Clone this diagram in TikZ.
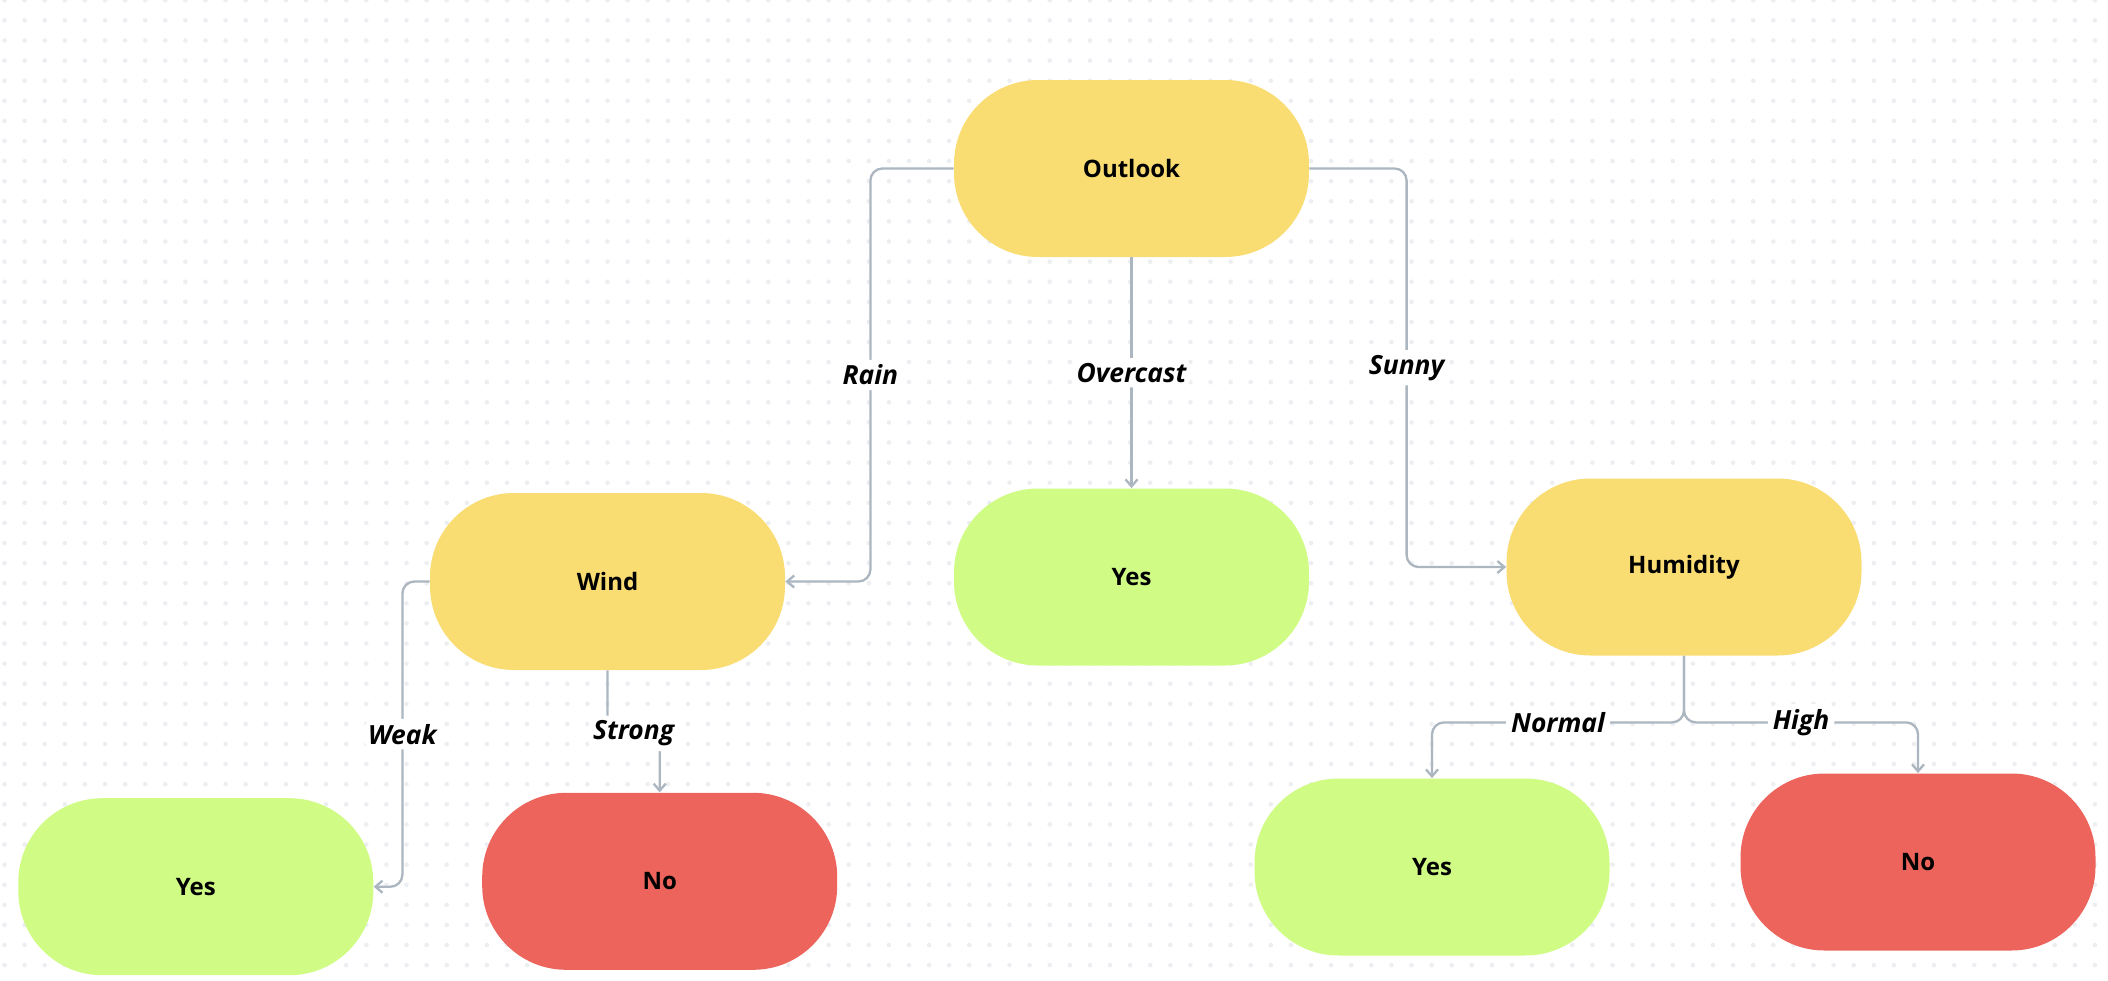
\documentclass[tikz,border=0pt]{standalone}
\usepackage{fontspec}
\setmainfont{Open Sans}
\usetikzlibrary{positioning,arrows.meta}
\definecolor{splitgold}{HTML}{F9DD72}
\definecolor{leafyes}{HTML}{D0FB85}
\definecolor{leafno}{HTML}{EC645C}
\definecolor{linkgrey}{HTML}{ACB6C0}
\definecolor{dotgrey}{HTML}{EDEEF2}
\tikzset{%
  every decision/.style={
    rectangle,
    rounded corners=42pt,
    minimum width=177.5pt,
    minimum height=88.5pt,
    font=\fontsize{12pt}{14pt}\selectfont\bfseries
  },
  split/.style={every decision, fill=splitgold},
  yes leaf/.style={every decision, fill=leafyes},
  no leaf/.style={every decision, fill=leafno},
}

\begin{document}
\begin{tikzpicture}[x=0.5pt,y=-0.5pt,on grid,>={Straight Barb[length=3.5pt,width=6pt]}]
        \tikzstyle{link}=[draw=linkgrey,line width=1.15pt,rounded corners=6pt,->]
        \tikzstyle{lbl}=[fill=white,inner sep=2.5pt,font=\fontsize{13.2pt}{15pt}\selectfont\bfseries\itshape]

        % dotted canvas
        \fill[white] (0,0) rectangle (2108,980);
        \useasboundingbox (0,0) rectangle (2108,980);
        \foreach \i in {0,...,104}
          \foreach \j in {0,...,48}
            \fill[dotgrey] (4.5+20.1*\i,0.3+20.1*\j) circle (1.15pt);

        \node[split] (outlook) at (1131.5,168.5) {Outlook};
        \node[split,below left=206.5pt and 262pt of outlook] (wind) {Wind};
        \node[yes leaf,below=204.25pt of outlook] (yesB) {Yes};
        \node[split,below right=199.25pt and 276.25pt of outlook] (humidity) {Humidity};
        \node[yes leaf,below left=152.6pt and 205.85pt of wind] (yesA) {Yes};
        \node[no leaf,below right=149.9pt and 26.1pt of wind] (noA) {No};
        \node[yes leaf,below left=150pt and 126pt of humidity] (yesC) {Yes};
        \node[no leaf,below right=147.5pt and 117pt of humidity] (noC) {No};

        \draw[link] (outlook.west) -| node[lbl,pos=0.75] {Rain} ([xshift=42.5pt]wind.east) -- (wind.east);
        \draw[link] (outlook.south) -- node[lbl] {Overcast} (yesB.north);
        \draw[link] (outlook.east) -| node[lbl,pos=0.75] {Sunny} ([xshift=-49.75pt]humidity.west) -- (humidity.west);
        \draw[link] (wind.west) -| node[lbl,pos=0.75] {Weak} ([xshift=14.35pt]yesA.east) -- (yesA.east);
        \draw[link] (wind.south) -- ([yshift=-31.5pt]wind.south) -| node[lbl,pos=0.25] {Strong} (noA.north);
        \draw[link] (humidity.south) -- ([yshift=-33.25pt]humidity.south) -| node[lbl,pos=0.25] {Normal} (yesC.north);
        \draw[link] (humidity.south) -- ([yshift=-33.25pt]humidity.south) -| node[lbl,pos=0.25] {High} (noC.north);
    \end{tikzpicture}
\end{document}
